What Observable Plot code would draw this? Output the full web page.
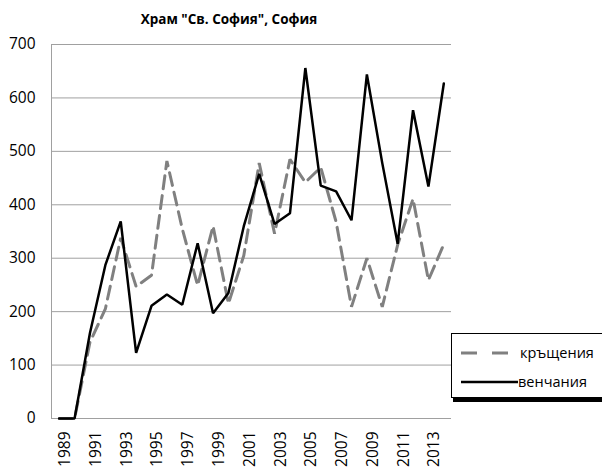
<!DOCTYPE html>
<html><head><meta charset="utf-8">
<script src="https://cdn.jsdelivr.net/npm/d3@7"></script>
<script src="https://cdn.jsdelivr.net/npm/@observablehq/plot@0.6"></script>
<style>
body{margin:0;background:#fff;font-family:"Open Sans",sans-serif;}
#wrap{position:relative;width:602px;height:470px;overflow:hidden;background:#fff;}
#title{position:absolute;left:0;width:458px;top:10px;text-align:center;font-weight:bold;font-size:13.5px;line-height:18px;color:#000;}
#chart{position:absolute;left:0;top:32px;}
#chart svg text{font-size:15.5px;}
#legend{position:absolute;left:451px;top:333px;width:170px;height:63px;border:1px solid #000;box-shadow:2px 4px 0 #000;background:#fff;}
</style></head><body>
<div id="wrap"><div id="title">Храм "Св. София", София</div><div id="chart"></div><div id="legend"></div></div>
<script>
const years = [1989,1990,1991,1992,1993,1994,1995,1996,1997,1998,1999,2000,2001,2002,2003,2004,2005,2006,2007,2008,2009,2010,2011,2012,2013,2014];
const baptisms = [0,0,143,205,338,247,268,482,355,249,360,215,305,478,346,485,442,470,368,209,300,209,325,411,259,326];
const weddings = [0,0,160,287,369,123,211,232,213,328,197,235,360,458,364,384,656,436,425,371,644,478,327,577,434,627];
const seriesNames = ["кръщения","венчания"];
const yTicks = [0,100,200,300,400,500,600,700];
const xTicks = [1989,1991,1993,1995,1997,1999,2001,2003,2005,2007,2009,2011,2013];

const data = years.flatMap((y,i)=>[
  {year:y, value:baptisms[i], series:seriesNames[0]},
  {year:y, value:weddings[i], series:seriesNames[1]}
]);
const W=602, H=438, mL=51, mR=151, mT=12, mB=52;
const xDomain = [years[0]-0.5, years[years.length-1]+0.5];

const plot = Plot.plot({
  width:W, height:H, marginLeft:mL, marginRight:mR, marginTop:mT, marginBottom:mB,
  style:{fontFamily:'"Open Sans", sans-serif', fontSize:"15.5px", color:"#000", background:"#fff", overflow:"visible"},
  x:{type:"linear", domain:xDomain, ticks:xTicks, tickRotate:-90, tickSize:0, tickPadding:13, label:null,
     tickFormat:d=>String(d)},
  y:{domain:[0,700], ticks:yTicks, tickSize:0, tickPadding:16, label:null},
  marks:[
    Plot.ruleY(yTicks, {stroke:"#a0a0a0", strokeWidth:1}),
    Plot.ruleX([xDomain[0]], {y1:0, y2:700, stroke:"#a0a0a0", strokeWidth:1}),
    Plot.line(data.filter(d=>d.series===seriesNames[0]), {x:"year", y:"value", stroke:"#808080", strokeWidth:3, strokeDasharray:"13,7", strokeLinejoin:"miter"}),
    Plot.line(data.filter(d=>d.series===seriesNames[1]), {x:"year", y:"value", stroke:"#000", strokeWidth:2.5, strokeLinejoin:"miter"})
  ]
});
document.getElementById("chart").appendChild(plot);
plot.querySelectorAll('[aria-label^="x-axis"] text').forEach(t=>{t.setAttribute("dy","0"); t.setAttribute("dominant-baseline","central");});

// legend
const lg = d3.select("#legend").append("svg").attr("width",170).attr("height",63)
  .style("font-family",'"Open Sans", sans-serif').style("font-size","14.5px");
const items = [
  {name:seriesNames[0], stroke:"#808080", dash:"16,15", w:3, x2:57, tx:68, ly:19, ty:24},
  {name:seriesNames[1], stroke:"#000", dash:null, w:2.5, x2:66, tx:66, ly:48, ty:53}
];
items.forEach(it=>{
  const l = lg.append("line").attr("x1",9).attr("x2",it.x2).attr("y1",it.ly).attr("y2",it.ly)
    .attr("stroke",it.stroke).attr("stroke-width",it.w);
  if (it.dash) l.attr("stroke-dasharray",it.dash);
  lg.append("text").attr("x",it.tx).attr("y",it.ty).text(it.name);
});
</script>
</body></html>
